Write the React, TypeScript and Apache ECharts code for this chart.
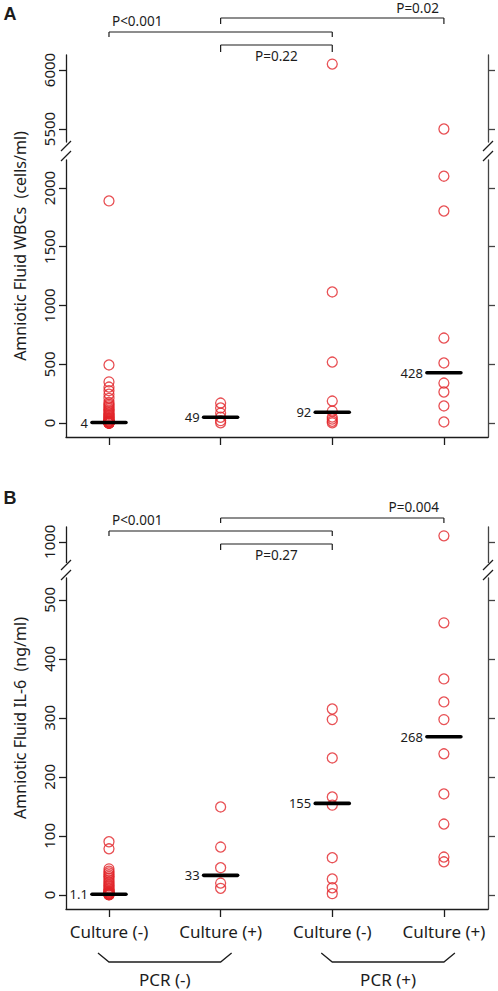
import React, { useEffect, useRef } from "react";
import * as echarts from "echarts";

// ---------- data ----------
const categories = ["Culture (-)", "Culture (+)", "Culture (-)", "Culture (+)"];
const pcrLabels = ["PCR (-)", "PCR (+)"];

const wbcPcrNegCultNeg = [1890, 494, 350, 306, 275, 245, 210, 175, 160, 148, 135, 122, 110, 98, 86, 75, 65, 55, 46, 38, 30, 24, 18, 13, 9, 6, 4, 3, 2, 1, 1, 0, 0, 0, 0];
const wbcPcrNegCultPos = [170, 128, 85, 49, 20, 2];
const wbcPcrPosCultNeg = [6050, 1115, 519, 187, 102, 51, 34, 15, 2];
const wbcPcrPosCultPos = [5500, 2100, 1804, 723, 511, 340, 264, 145, 9];
const wbcMedians = [4, 49, 92, 428];
const wbcMedianLabels = ["4", "49", "92", "428"];

const il6PcrNegCultNeg = [90, 78, 44, 40, 37, 34, 31, 28, 25, 22, 20, 17, 15, 12, 10, 8, 6, 5, 4, 3, 2, 1.5, 1, 0.8, 0.5, 0.3, 0];
const il6PcrNegCultPos = [149, 81, 46, 20, 11];
const il6PcrPosCultNeg = [315, 297, 232, 166, 152, 63, 27, 12, 2];
const il6PcrPosCultPos = [1010, 461, 366, 327, 297, 239, 171, 120, 64, 56];
const il6Medians = [1.1, 33, 155, 268];
const il6MedianLabels = ["1.1", "33", "155", "268"];

const wbcTicksHigh = [5500, 6000];
const wbcTicksLow = [0, 500, 1000, 1500, 2000];
const il6TicksHigh = [1000];
const il6TicksLow = [0, 100, 200, 300, 400, 500];

const wbcComparisons = [
  { from: 2, to: 4, text: "P=0.02" },
  { from: 1, to: 3, text: "P<0.001" },
  { from: 2, to: 3, text: "P=0.22" },
];
const il6Comparisons = [
  { from: 2, to: 4, text: "P=0.004" },
  { from: 1, to: 3, text: "P<0.001" },
  { from: 2, to: 3, text: "P=0.27" },
];

const wbcTitle = "Amniotic Fluid WBCs  (cells/ml)";
const il6Title = "Amniotic Fluid IL-6  (ng/ml)";

// ---------- style / layout ----------
const FONT = "'Noto Sans', 'DejaVu Sans', sans-serif";
const RED = "#e2262b";
const INK = "#1c1c1c";
const GRID_LEFT = 66;
const GRID_RIGHT = 10;
const X_MIN = 0.615;
const X_MAX = 4.395;

type LabelMode = "left" | "right" | "below";
const panels = [
  {
    letter: "A",
    letterY: 14,
    title: wbcTitle,
    titleY: 246,
    groups: [wbcPcrNegCultNeg, wbcPcrNegCultPos, wbcPcrPosCultNeg, wbcPcrPosCultPos],
    medians: wbcMedians,
    medianLabels: wbcMedianLabels,
    highTicks: wbcTicksHigh,
    lowTicks: wbcTicksLow,
    breakAt: 3000,
    high: { top: 55, bottom: 142, min: 5390, max: 6127 },
    low: { top: 160, bottom: 437, min: -119, max: 2238 },
    breakY: [146, 156],
    comparisons: wbcComparisons,
    brackets: [
      { y: 18, tick: 6, mode: "right" as LabelMode, labelY: 8 },
      { y: 32, tick: 5, mode: "left" as LabelMode, labelY: 21 },
      { y: 45, tick: 7, mode: "below" as LabelMode, labelY: 56 },
    ],
    showCategories: false,
  },
  {
    letter: "B",
    letterY: 498,
    title: il6Title,
    titleY: 718,
    groups: [il6PcrNegCultNeg, il6PcrNegCultPos, il6PcrPosCultNeg, il6PcrPosCultPos],
    medians: il6Medians,
    medianLabels: il6MedianLabels,
    highTicks: il6TicksHigh,
    lowTicks: il6TicksLow,
    breakAt: 700,
    high: { top: 527, bottom: 563, min: 964, max: 1025 },
    low: { top: 578, bottom: 909, min: -24, max: 537 },
    breakY: [565, 575],
    comparisons: il6Comparisons,
    brackets: [
      { y: 518, tick: 5, mode: "right" as LabelMode, labelY: 507 },
      { y: 531, tick: 5, mode: "left" as LabelMode, labelY: 520 },
      { y: 544, tick: 6, mode: "below" as LabelMode, labelY: 555 },
    ],
    showCategories: true,
  },
];

const W = 498;
const H = 991;

function buildOption() {
  const grid: any[] = [];
  const xAxis: any[] = [];
  const yAxis: any[] = [];
  const series: any[] = [];

  panels.forEach((p, pi) => {
    [p.high, p.low].forEach((seg, si) => {
      const gi = pi * 2 + si;
      const isLow = si === 1;
      grid.push({
        left: GRID_LEFT,
        right: GRID_RIGHT,
        top: seg.top,
        height: seg.bottom - seg.top,
        containLabel: false,
      });
      xAxis.push({
        type: "value",
        gridIndex: gi,
        min: X_MIN,
        max: X_MAX,
        show: isLow,
        splitLine: { show: false },
        axisLine: { show: isLow, onZero: false, lineStyle: { color: INK, width: 1.3 } },
        axisTick: {
          show: isLow,
          customValues: [1, 2, 3, 4],
          length: 8,
          inside: false,
          lineStyle: { color: INK, width: 1.3 },
        },
        axisLabel: {
          show: isLow && p.showCategories,
          customValues: [1, 2, 3, 4],
          margin: 14,
          fontFamily: FONT,
          fontSize: 17,
          color: INK,
          formatter: (v: number) => categories[Math.round(v) - 1] ?? "",
        },
      });
      const ticks = isLow ? p.lowTicks : p.highTicks;
      ["left", "right"].forEach((pos) => {
        yAxis.push({
          type: "value",
          gridIndex: gi,
          position: pos,
          min: seg.min,
          max: seg.max,
          splitLine: { show: false },
          axisLine: { show: true, onZero: false, lineStyle: { color: pos === "left" ? INK : "#444", width: 1.3 } },
          axisTick: {
            show: true,
            customValues: ticks,
            length: 7,
            inside: false,
            lineStyle: { color: pos === "left" ? INK : "#444", width: 1.3 },
          },
          axisLabel: {
            show: pos === "left",
            customValues: ticks,
            rotate: 90,
            margin: 10,
            fontFamily: FONT,
            fontSize: 15,
            color: INK,
            formatter: (v: number) => String(v),
          },
        });
      });

      const pts: number[][] = [];
      p.groups.forEach((g, k) => {
        g.forEach((v) => {
          const inHigh = v >= p.breakAt;
          if (inHigh === !isLow) pts.push([k + 1, v]);
        });
      });
      series.push({
        type: "scatter",
        xAxisIndex: gi,
        yAxisIndex: gi * 2,
        data: pts,
        symbol: "circle",
        symbolSize: 10,
        itemStyle: { color: "rgba(255,255,255,0)", borderColor: RED, borderWidth: 1.3 },
        silent: true,
        z: 3,
      });

      if (isLow) {
        const labels = p.medianLabels;
        series.push({
          type: "custom",
          xAxisIndex: gi,
          yAxisIndex: gi * 2,
          data: p.medians.map((m, k) => [k + 1, m]),
          silent: true,
          z: 5,
          renderItem: (params: any, api: any) => {
            const c = api.coord([api.value(0), api.value(1)]);
            const half = 17;
            return {
              type: "group",
              children: [
                {
                  type: "line",
                  shape: { x1: c[0] - half, y1: c[1], x2: c[0] + half, y2: c[1] },
                  style: { stroke: "#000", lineWidth: 3.6, lineCap: "round" },
                },
                {
                  type: "text",
                  style: {
                    text: labels[params.dataIndex],
                    x: c[0] - half - 4,
                    y: c[1],
                    align: "right",
                    verticalAlign: "middle",
                    fontSize: 13,
                    fontFamily: FONT,
                    fill: INK,
                  },
                },
              ],
            };
          },
        });
      }
    });
  });

  return {
    animation: false,
    backgroundColor: "#fff",
    grid,
    xAxis,
    yAxis,
    series,
  };
}

function buildGraphic(chart: echarts.ECharts) {
  const g: any[] = [];
  const line = (x1: number, y1: number, x2: number, y2: number, w = 1.3) => ({
    type: "line",
    shape: { x1, y1, x2, y2 },
    style: { stroke: INK, lineWidth: w },
    silent: true,
  });
  const text = (t: string, x: number, y: number, align: string, size: number, extra: any = {}) => ({
    type: "text",
    x,
    y,
    style: { text: t, align, verticalAlign: "middle", fontSize: size, fontFamily: FONT, fill: INK, ...extra },
    silent: true,
  });

  panels.forEach((p, pi) => {
    const lowIdx = pi * 2 + 1;
    const px = (v: number) => chart.convertToPixel({ xAxisIndex: lowIdx }, v) as unknown as number;

    g.push(text(p.letter, 10, p.letterY, "center", 18, { fontWeight: "bold", fontFamily: "'Liberation Sans', Arial, sans-serif" }));

    g.push({
      type: "text",
      x: 20,
      y: p.titleY,
      rotation: Math.PI / 2,
      style: { text: p.title, align: "center", verticalAlign: "middle", fontSize: 16, fontFamily: FONT, fill: INK },
      silent: true,
    });

    const leftX = GRID_LEFT;
    const rightX = W - GRID_RIGHT;
    [leftX, rightX].forEach((ax) => {
      p.breakY.forEach((by) => {
        g.push({ type: "rect", shape: { x: ax - 2, y: by - 2, width: 4, height: 4 }, style: { fill: "#fff" }, silent: true, z: 10 });
        g.push({ ...line(ax - 5, by + 5, ax + 5, by - 5, 1.2), z: 11 });
      });
    });

    p.comparisons.forEach((c, ci) => {
      const b = p.brackets[ci];
      const x1 = px(c.from);
      const x2 = px(c.to);
      g.push(line(x1, b.y, x2, b.y, 1.2));
      g.push(line(x1, b.y, x1, b.y + b.tick, 1.2));
      g.push(line(x2, b.y, x2, b.y + b.tick, 1.2));
      if (b.mode === "left") g.push(text(c.text, x1 + 3, b.labelY, "left", 13.5));
      else if (b.mode === "right") g.push(text(c.text, x2 - 5, b.labelY, "right", 13.5));
      else g.push(text(c.text, (x1 + x2) / 2, b.labelY, "center", 13.5));
    });

    if (p.showCategories) {
      pcrLabels.forEach((lab, li) => {
        const xa = px(li * 2 + 1);
        const xb = px(li * 2 + 2);
        g.push({
          type: "polyline",
          shape: { points: [[xa - 11, 953], [xa, 962], [xb, 962], [xb + 11, 953]] },
          style: { stroke: INK, lineWidth: 1.3, fill: "none" },
          silent: true,
        });
        g.push(text(lab, (xa + xb) / 2, 979, "center", 17));
      });
    }
  });
  return g;
}

export default function App() {
  const ref = useRef<HTMLDivElement>(null);
  useEffect(() => {
    if (!ref.current) return;
    const chart = echarts.init(ref.current, undefined, { renderer: "svg", width: W, height: H });
    chart.setOption(buildOption());
    chart.setOption({ graphic: buildGraphic(chart) });
    return () => chart.dispose();
  }, []);
  return (
    <div
      ref={ref}
      style={{ position: "fixed", left: 0, top: 0, width: W, height: H, background: "#fff" }}
    />
  );
}
